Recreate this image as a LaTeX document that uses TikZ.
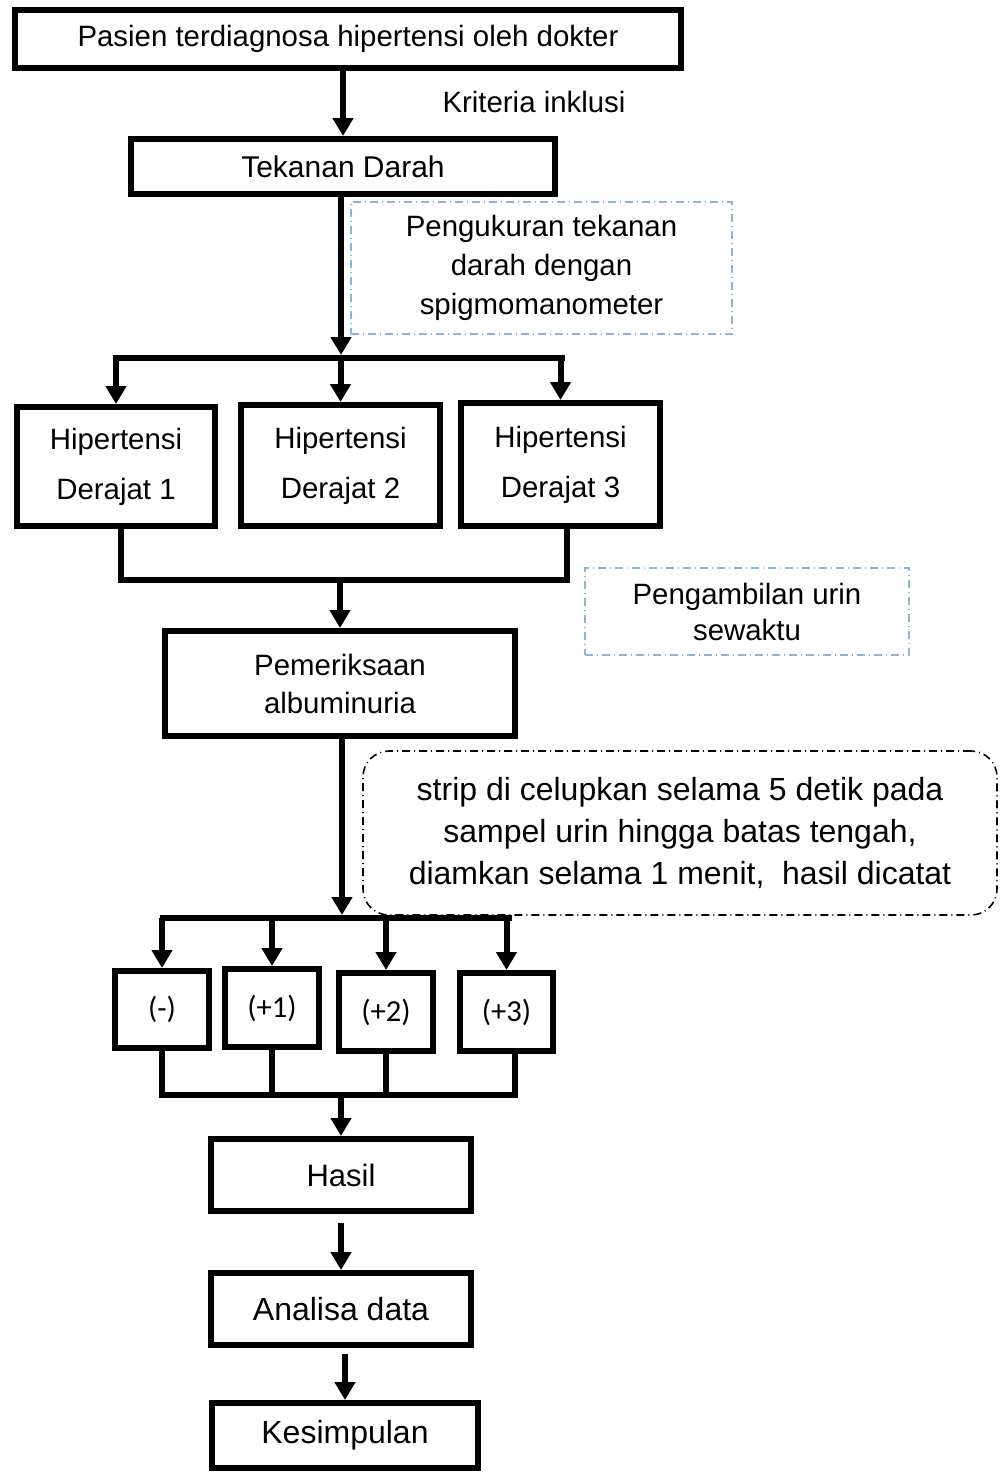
\documentclass[tikz,border=0pt]{standalone}
\usepackage{fontspec}
\setmainfont{Liberation Sans}
\newfontfamily\calibrifont{Carlito}
\usetikzlibrary{arrows.meta}
\definecolor{noteblue}{HTML}{8DB3E2}
\begin{document}
\begin{tikzpicture}
[x=0.5pt,y=-0.5pt,
box/.style={draw,line width=3pt,inner sep=0pt,align=center,font=\fontsize{14.7}{19}\selectfont},
twoline/.style={box,font=\fontsize{14.7}{25}\selectfont},
endbox/.style={box,minimum width=130pt,minimum height=36pt,font=\fontsize{16}{19}\selectfont},
result/.style={box,minimum width=47pt,minimum height=39pt,font=\calibrifont\fontsize{15.3}{18}\selectfont},
note/.style={draw=noteblue,line width=0.8pt,dash pattern=on 4pt off 2pt on 0.5pt off 2pt,inner sep=0pt,align=center},
flow/.style={line width=3pt},
arrow/.style={flow,-{Triangle[width=10pt,length=9pt]}}]
       \useasboundingbox (0,0) rectangle (1002,1472);
       \node (pasien) at (348,39) [box,minimum width=333pt,minimum height=29pt] {Pasien terdiagnosa hipertensi oleh dokter};
       \node (kriteria) at (534,102) [font=\fontsize{14.7}{18}\selectfont] {Kriteria inklusi};
       \node (tekanan) at (343,166.5) [box,minimum width=212pt,minimum height=27.5pt,font=\fontsize{15}{18}\selectfont] {Tekanan Darah};
       \node (ukur) at (541.5,268) [note,minimum width=190.5pt,minimum height=66pt,font=\fontsize{14.7}{19.5}\selectfont] {Pengukuran tekanan\\darah dengan\\spigmomanometer};
       \node (h1) at (116,466.5) [twoline,minimum width=99pt,minimum height=59.5pt] {Hipertensi\\Derajat 1};
       \node (h2) at (340.5,465.5) [twoline,minimum width=99.5pt,minimum height=60.5pt] {Hipertensi\\Derajat 2};
       \node (h3) at (560.5,464.5) [twoline,minimum width=99.5pt,minimum height=61.5pt] {Hipertensi\\Derajat 3};
       \node (ambil) at (747,611.5) [note,minimum width=162pt,minimum height=43.5pt,font=\fontsize{14.7}{18}\selectfont] {Pengambilan urin\\sewaktu};
       \node (pem) at (340,683.5) [box,minimum width=175pt,minimum height=52.5pt] {Pemeriksaan\\albuminuria};
       \node (strip) at (680,833) [note,draw=black,rounded corners=13pt,minimum width=317pt,minimum height=82pt,font=\fontsize{16}{21}\selectfont] {strip di celupkan selama 5 detik pada\\sampel urin hingga batas tengah,\\diamkan selama 1 menit,\ \ hasil dicatat};
       \node (neg) at (162,1009.5) [result,minimum height=38.5pt] {(-)};
       \node (p1) at (272,1008) [result] {(+1)};
       \node (p2) at (386,1012) [result] {(+2)};
       \node (p3) at (506.5,1012) [result,minimum width=46.5pt] {(+3)};
       \node (hasil) at (341,1175) [endbox,font=\fontsize{15.5}{19}\selectfont] {Hasil};
       \node (analisa) at (341,1309) [endbox] {Analisa data};
       \node (kes) at (345,1435.5) [endbox,minimum width=133pt,minimum height=32.5pt] {Kesimpulan};
       \coordinate (split1) at (341,355);
       \coordinate (bar1l) at (113,358);
       \coordinate (bar1r) at (565,358);
       \coordinate (join1l) at (121,580);
       \coordinate (join1r) at (567,580);
       \coordinate (split2) at (342,915);
       \coordinate (bar2l) at (160,918);
       \coordinate (bar2r) at (512,918);
       \coordinate (join2l) at (163,1095);
       \coordinate (join2r) at (515,1095);
       \draw[arrow] (tekanan.north |- pasien.south) -- (tekanan.north);
       \draw[arrow] (tekanan.south -| split1) -- (split1);
       \draw[flow] (bar1l) -- (bar1r);
       \foreach \h in {h1,h2,h3}
         \draw[arrow] (\h.north |- bar1l) -- (\h.north);
       \draw[flow] (h1.south -| join1l) -- (join1l) -- (join1r) -- (h3.south -| join1r);
       \draw[arrow] (pem.north |- join1l) -- (pem.north);
       \draw[arrow] (pem.south -| split2) -- (split2);
       \draw[flow] (bar2l) -- (bar2r);
       \foreach \r in {neg,p1,p2,p3}
         \draw[arrow] (\r.north |- bar2l) -- (\r.north);
       \draw[flow] (neg.south) -- (neg.south |- join2l) -- (join2r) -- (p3.south -| join2r);
       \foreach \r in {p1,p2}
         \draw[flow] (\r.south) -- (\r.south |- join2l);
       \draw[arrow] (hasil.north |- join2l) -- (hasil.north);
       \draw[arrow,shorten <=4.5pt] (hasil) -- (analisa);
       \draw[arrow,shorten <=3pt] (analisa.south -| kes.north) -- (kes.north);
    \end{tikzpicture}
\end{document}
